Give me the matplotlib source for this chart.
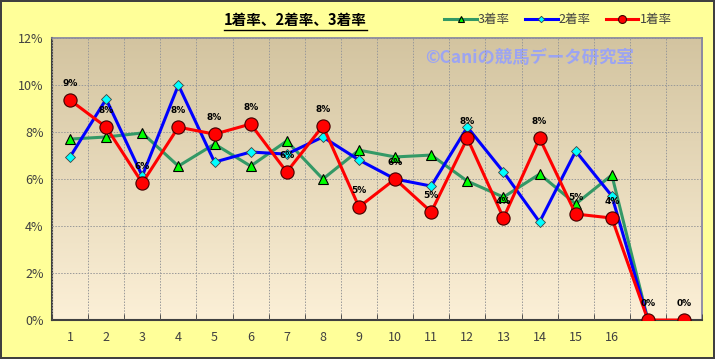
import numpy as np
import matplotlib.pyplot as plt
from matplotlib.lines import Line2D

plt.rcParams['font.family'] = ['Noto Sans CJK JP', 'DejaVu Sans']

# === data ===
categories = ["1", "2", "3", "4", "5", "6", "7", "8", "9", "10",
              "11", "12", "13", "14", "15", "16", "", ""]
rate1 = [9.36, 8.21, 5.83, 8.21, 7.91, 8.34, 6.30, 8.26, 4.81, 6.00,
         4.60, 7.74, 4.34, 7.74, 4.51, 4.34, 0.0, 0.0]
rate2 = [6.94, 9.40, 6.13, 10.0, 6.72, 7.15, 7.06, 7.79, 6.81, 6.00,
         5.70, 8.21, 6.30, 4.17, 7.19, 5.28, 0.0]
rate3 = [7.70, 7.79, 7.96, 6.55, 7.49, 6.55, 7.62, 6.00, 7.23, 6.94,
         7.02, 5.91, 5.23, 6.21, 4.94, 6.17, 0.0]
labels1 = ["9%", "8%", "6%", "8%", "8%", "8%", "6%", "8%", "5%", "6%",
           "5%", "8%", "4%", "8%", "5%", "4%", "0%", "0%"]
yticks = [0, 2, 4, 6, 8, 10, 12]

fig = plt.figure(figsize=(7.15, 3.59), dpi=100)
fig.patch.set_facecolor("#FFFF99")
fig.patch.set_edgecolor("#404040")
fig.patch.set_linewidth(1.5)

ax = fig.add_axes([0.0727, 0.1086, 0.9093, 0.7854])
n = len(categories)
ax.set_xlim(-0.5, n - 0.5)
ax.set_ylim(0, 12)

# gradient background of the plot area
top = np.array([211, 196, 160]) / 255
bot = np.array([252, 240, 215]) / 255
t = np.linspace(0, 1, 256)[:, None]
grad = (top * (1 - t) + bot * t)[:, None, :]
ax.imshow(grad, extent=[-0.5, n - 0.5, 0, 12], aspect="auto", origin="upper", zorder=0)

# grid
ax.set_yticks(yticks)
ax.set_yticklabels([f"{v}%" for v in yticks])
ax.set_xticks(range(n))
ax.set_xticklabels(categories)
ax.set_xticks(np.arange(-0.5, n, 1), minor=True)
ax.tick_params(axis="x", which="major", length=0, pad=8, labelsize=9, labelcolor="#404040")
ax.tick_params(axis="x", which="minor", length=4, direction="in", color="#404040")
ax.tick_params(axis="y", length=0, pad=6, labelsize=9, labelcolor="#404040")
ax.grid(True, which="minor", axis="x", color="#999999", linestyle=(0, (1.5, 1.5)), linewidth=0.7)
ax.grid(True, which="major", axis="y", color="#999999", linestyle=(0, (1.5, 1.5)), linewidth=0.7)
ax.set_axisbelow(False)
for s in ["left", "bottom"]:
    ax.spines[s].set_color("#404040")
    ax.spines[s].set_linewidth(1.5)
for s in ["top", "right"]:
    ax.spines[s].set_color("#8080A0")
    ax.spines[s].set_linewidth(1.2)

x3 = np.arange(len(rate3))
x2 = np.arange(len(rate2))
x1 = np.arange(len(rate1))
ax.plot(x3, rate3, color="#339966", lw=2.2, marker="^", ms=7,
        mfc="#00FF00", mec="black", mew=0.8, label="3着率", zorder=3)
ax.plot(x2, rate2, color="#0000FF", lw=2.2, marker="D", ms=5.5,
        mfc="#00FFFF", mec="#404040", mew=0.6, label="2着率", zorder=4)
ax.plot(x1, rate1, color="#FF0000", lw=2.2, marker="o", ms=9.5,
        mfc="#FF0000", mec="#400000", mew=0.8, label="1着率", zorder=5)

for xi, yi, lab in zip(x1, rate1, labels1):
    ax.annotate(lab, (xi, yi), xytext=(0, 12), textcoords="offset points",
                ha="center", va="center", fontsize=6.5, fontweight="bold",
                family="DejaVu Sans", color="black", zorder=6)

# watermark
ax.text(0.735, 0.93, "©Caniの競馬データ研究室", transform=ax.transAxes,
        ha="center", va="center", fontsize=12.5, fontweight="bold",
        color="#9CA4F2", zorder=1)

# title with underline
title = fig.text(0.413, 0.945, "1着率、2着率、3着率", ha="center", va="center",
                 fontsize=10.5, fontweight="bold", color="black")
fig.canvas.draw()
bb = title.get_window_extent().transformed(fig.transFigure.inverted())
fig.add_artist(Line2D([bb.x0, bb.x1], [bb.y0 - 0.005, bb.y0 - 0.005],
                      color="black", lw=1, transform=fig.transFigure))

leg = fig.legend(loc="center right", bbox_to_anchor=(0.955, 0.945), ncol=3,
                 frameon=False, fontsize=9, handlelength=2.6, columnspacing=1.2,
                 handletextpad=0.1, markerscale=0.6)
for txt in leg.get_texts():
    txt.set_color("#404040")

fig.savefig("out.png", dpi=100, facecolor=fig.get_facecolor(),
            edgecolor=fig.get_edgecolor())
